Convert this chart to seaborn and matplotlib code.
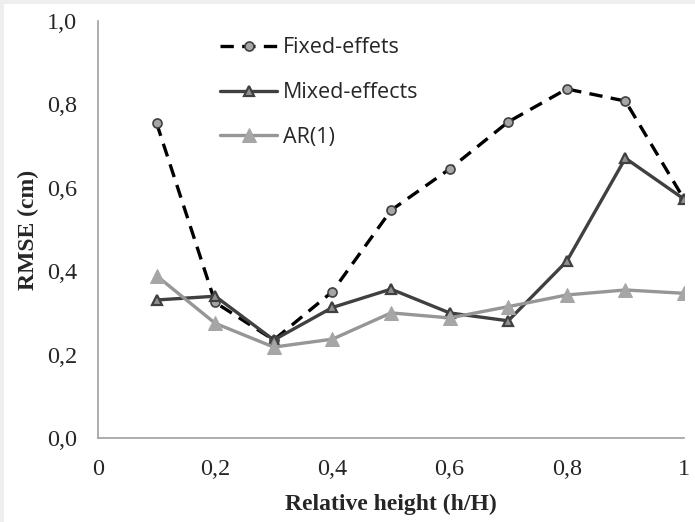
import pandas as pd
import numpy as np
import matplotlib
matplotlib.use('Agg')
import matplotlib.pyplot as plt
import seaborn as sns
from matplotlib.patches import Rectangle

# Values
height = [0.1, 0.2, 0.3, 0.4, 0.5, 0.6, 0.7, 0.8, 0.9, 1.0]
fixed = [0.755, 0.325, 0.235, 0.351, 0.546, 0.645, 0.758, 0.837, 0.808, 0.573]
mixed = [0.331, 0.340, 0.235, 0.313, 0.357, 0.300, 0.281, 0.424, 0.671, 0.573]
ar1 = [0.389, 0.275, 0.218, 0.237, 0.300, 0.288, 0.315, 0.343, 0.355, 0.347]

x_ticks = [0, 0.2, 0.4, 0.6, 0.8, 1.0]
x_labels = ['0', '0,2', '0,4', '0,6', '0,8', '1']
y_ticks = [0.0, 0.2, 0.4, 0.6, 0.8, 1.0]
y_labels = ['0,0', '0,2', '0,4', '0,6', '0,8', '1,0']

sns.set_style("white")

fig = plt.figure(figsize=(6.95, 5.22), dpi=100, facecolor='#eeeeee')
fig.patches.append(Rectangle((4 / 695, 0), 1, 1 - 4 / 522, transform=fig.transFigure,
                             facecolor='white', edgecolor='none', zorder=-10))
ax = fig.add_axes([98 / 695, 1 - 438 / 522, 586 / 695, 417 / 522])
ax.set_facecolor('none')

sns.lineplot(x=height, y=fixed, ax=ax, color='black', lw=2.4,
             label='Fixed-effets', marker='o', markersize=6.5,
             markerfacecolor='#a6a6a6', markeredgecolor='#404040', markeredgewidth=1.2)
ax.lines[-1].set_linestyle((0, (4, 2.5)))
sns.lineplot(x=height, y=mixed, ax=ax, color='#404040', lw=2.4,
             label='Mixed-effects', marker='^', markersize=7,
             markerfacecolor='#909090', markeredgecolor='#404040', markeredgewidth=1.6)
sns.lineplot(x=height, y=ar1, ax=ax, color='#969696', lw=2.4,
             label='AR(1)', marker='^', markersize=10,
             markerfacecolor='#a6a6a6', markeredgecolor='#a6a6a6')

ax.set_xlim(0, 1.0)
ax.set_ylim(0, 1.0)
ax.set_xticks(x_ticks)
ax.set_xticklabels(x_labels)
ax.set_yticks(y_ticks)
ax.set_yticklabels(y_labels)

for s in ['top', 'right']:
    ax.spines[s].set_visible(False)
for s in ['left', 'bottom']:
    ax.spines[s].set_color('#a0a0a0')
    ax.spines[s].set_linewidth(1.2)

ax.tick_params(axis='both', direction='out', length=7, width=1.2, color='#a0a0a0',
               labelsize=17.5, pad=8)
for lab in ax.get_xticklabels() + ax.get_yticklabels():
    lab.set_family('Liberation Serif')

ax.set_xlabel('Relative height (h/H)', family='Liberation Serif', fontweight='bold',
              fontsize=17, labelpad=10)
ax.set_ylabel('RMSE (cm)', family='Liberation Serif', fontweight='bold',
              fontsize=17, labelpad=6)

leg = ax.legend(loc='upper left', bbox_to_anchor=(201 / 695, 1 - 18 / 522),
                bbox_transform=fig.transFigure, frameon=False,
                prop={'family': 'Open Sans', 'size': 15.5},
                labelspacing=1.1, handlelength=2.65, handletextpad=0.25)

fig.savefig('out.png', dpi=100, facecolor=fig.get_facecolor())
